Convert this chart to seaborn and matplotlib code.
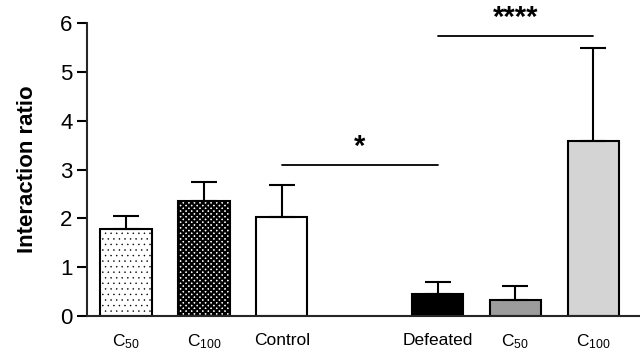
import numpy as np
import pandas as pd
import matplotlib
matplotlib.use("Agg")
import matplotlib.pyplot as plt
import seaborn as sns

# bar values
groups = ["C50_a", "C100_a", "Control", "gap", "Defeated", "C50_b", "C100_b"]
tick_labels = ["C$_{50}$", "C$_{100}$", "Control", "", "Defeated", "C$_{50}$", "C$_{100}$"]
means = [1.78, 2.36, 2.03, np.nan, 0.46, 0.33, 3.58]
sem = [0.27, 0.39, 0.65, 0.0, 0.24, 0.28, 1.91]
colors = ["white", "white", "white", "white", "black", "#9c9c9c", "#d4d4d4"]
hatches = ["...", "xxxxxx", "", "", "", "", ""]
hatch_lw = [0.3, 1.6, 1, 1, 1, 1, 1]

# significance brackets: (from, to, height, label)
sig = [(2, 4, 3.09, "*"), (4, 6, 5.74, "****")]

sns.set_style("ticks")
plt.rcParams["font.family"] = ["Liberation Sans", "DejaVu Sans"]
plt.rcParams["mathtext.default"] = "regular"
plt.rcParams["text.color"] = "black"
plt.rcParams["axes.labelcolor"] = "black"
plt.rcParams["xtick.color"] = "black"
plt.rcParams["ytick.color"] = "black"

df = pd.DataFrame({"group": groups, "mean": means})
df_plot = df.dropna()

fig = plt.figure(figsize=(6.4, 3.54), dpi=100)
ax = fig.add_axes([0.136, 0.107, 0.864, 0.828])

sns.barplot(data=df_plot, x="group", y="mean", order=groups, width=0.66,
            errorbar=None, ax=ax, edgecolor="black", linewidth=1.5)

for patch, g in zip(ax.patches, df_plot["group"]):
    i = groups.index(g)
    patch.set_facecolor(colors[i])
    if hatches[i]:
        patch.set_hatch(hatches[i])
        try:
            patch.set_hatch_linewidth(hatch_lw[i])
        except AttributeError:
            pass

pos = np.arange(len(groups))
m = np.array(means, dtype=float)
s = np.array(sem)
ok = ~np.isnan(m)
ax.errorbar(pos[ok], m[ok], yerr=[np.zeros(ok.sum()), s[ok]], fmt="none",
            ecolor="black", elinewidth=1.5, capsize=9.7, capthick=1.5, zorder=1)

for a, b, h, lab in sig:
    ax.plot([a, b], [h, h], color="black", lw=1.3, clip_on=False)
    ax.text((a + b) / 2, h + 0.08, lab, ha="center", va="bottom",
            fontsize=21, fontweight="bold", clip_on=False)

ax.set_xlim(-0.5, 6.6)
ax.set_ylim(0, 6)
ax.set_yticks(range(0, 7))
ax.set_xticks(pos)
ax.set_xticklabels(tick_labels, fontsize=12.5)
ax.tick_params(axis="x", length=0, pad=12)
ax.tick_params(axis="y", labelsize=16, length=7, width=1.5)
ax.set_xlabel("")
ax.set_ylabel("Interaction ratio", fontsize=16, fontweight="bold", labelpad=16)
for sp in ["left", "bottom"]:
    ax.spines[sp].set_linewidth(1.5)
sns.despine(ax=ax)

fig.savefig("out.png", dpi=100)
